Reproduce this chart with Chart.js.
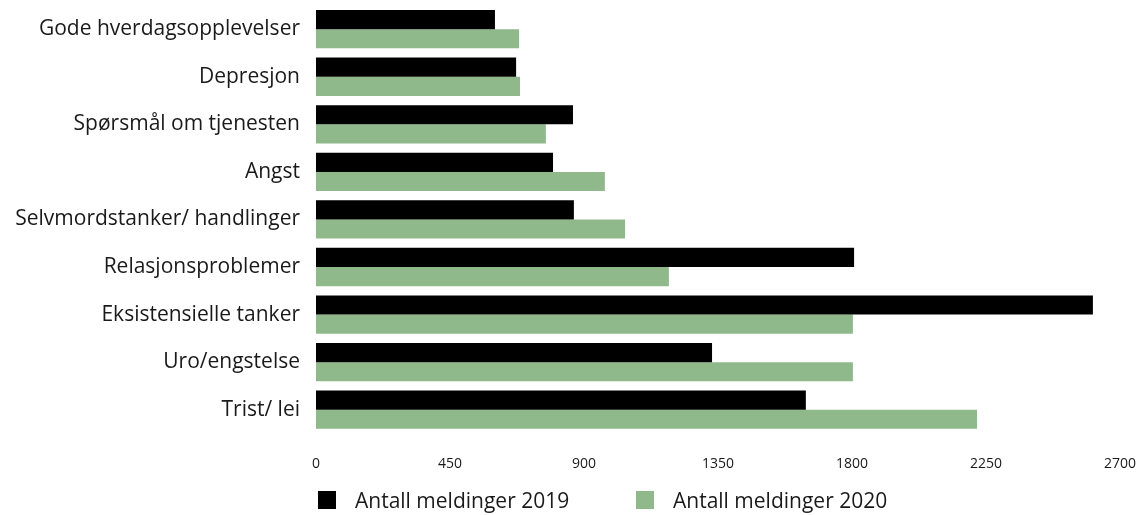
<!DOCTYPE html>
<html>
<head>
<meta charset="utf-8">
<script src="https://cdn.jsdelivr.net/npm/chart.js@4"></script>
<style>
  body { margin: 0; background: #fff; }
  #wrap { position: relative; width: 1140px; height: 515px; }
  .legend { position: absolute; top: 487px; left: 0; font-family: "Open Sans", sans-serif; font-size: 21px; color: #1a1a1a; }
  .item { position: absolute; display: flex; align-items: center; white-space: nowrap; line-height: 26px; }
  .box { width: 18px; height: 18px; margin-right: 19px; }
</style>
</head>
<body>
<div id="wrap">
  <canvas id="myChart" width="1140" height="515"></canvas>
  <div class="legend" id="legend"></div>
</div>
<script>
const categories = [
  "Gode hverdagsopplevelser",
  "Depresjon",
  "Spørsmål om tjenesten",
  "Angst",
  "Selvmordstanker/ handlinger",
  "Relasjonsproblemer",
  "Eksistensielle tanker",
  "Uro/engstelse",
  "Trist/ lei",
];
const seriesNames = ["Antall meldinger 2019", "Antall meldinger 2020"];
const values2019 = [601, 672, 863, 796, 866, 1807, 2609, 1330, 1645];
const values2020 = [682, 685, 772, 970, 1038, 1185, 1803, 1803, 2220];
const colors = ["#000000", "#8fb88b"];

const ctx = document.getElementById("myChart");
const myChart = new Chart(ctx, {
  type: "bar",
  data: {
    labels: categories,
    datasets: [
      { label: seriesNames[0], data: values2019, backgroundColor: colors[0] },
      { label: seriesNames[1], data: values2020, backgroundColor: colors[1] },
    ],
  },
  options: {
    indexAxis: "y",
    responsive: false,
    animation: false,
    categoryPercentage: 0.805,
    barPercentage: 1,
    layout: { padding: { top: 5.4, right: 20, bottom: 19.5, left: 0 } },
    plugins: { legend: { display: false }, tooltip: { enabled: false } },
    scales: {
      x: {
        min: 0,
        max: 2700,
        grid: { display: false, drawTicks: false },
        border: { display: false },
        afterFit: (scale) => {
          scale.paddingLeft = 0;
          scale.paddingRight = 0;
        },
        ticks: {
          stepSize: 450,
          padding: 22.6,
          color: "#1a1a1a",
          font: { family: "Open Sans", size: 14 },
          callback: (value) => value,
        },
      },
      y: {
        grid: { display: false, drawTicks: false },
        border: { display: false },
        afterFit: (scale) => {
          scale.width = 316;
          scale.paddingTop = 0;
          scale.paddingBottom = 0;
        },
        ticks: {
          padding: 16,
          color: "#1a1a1a",
          font: { family: "Open Sans", size: 21 },
        },
      },
    },
  },
});

// legend below the chart
const legend = document.getElementById("legend");
const legendX = [318, 636];
seriesNames.forEach((name, i) => {
  const item = document.createElement("div");
  item.className = "item";
  item.style.left = legendX[i] + "px";
  item.innerHTML = `<span class="box" style="background:${colors[i]}"></span><span>${name}</span>`;
  legend.appendChild(item);
});
</script>
</body>
</html>
